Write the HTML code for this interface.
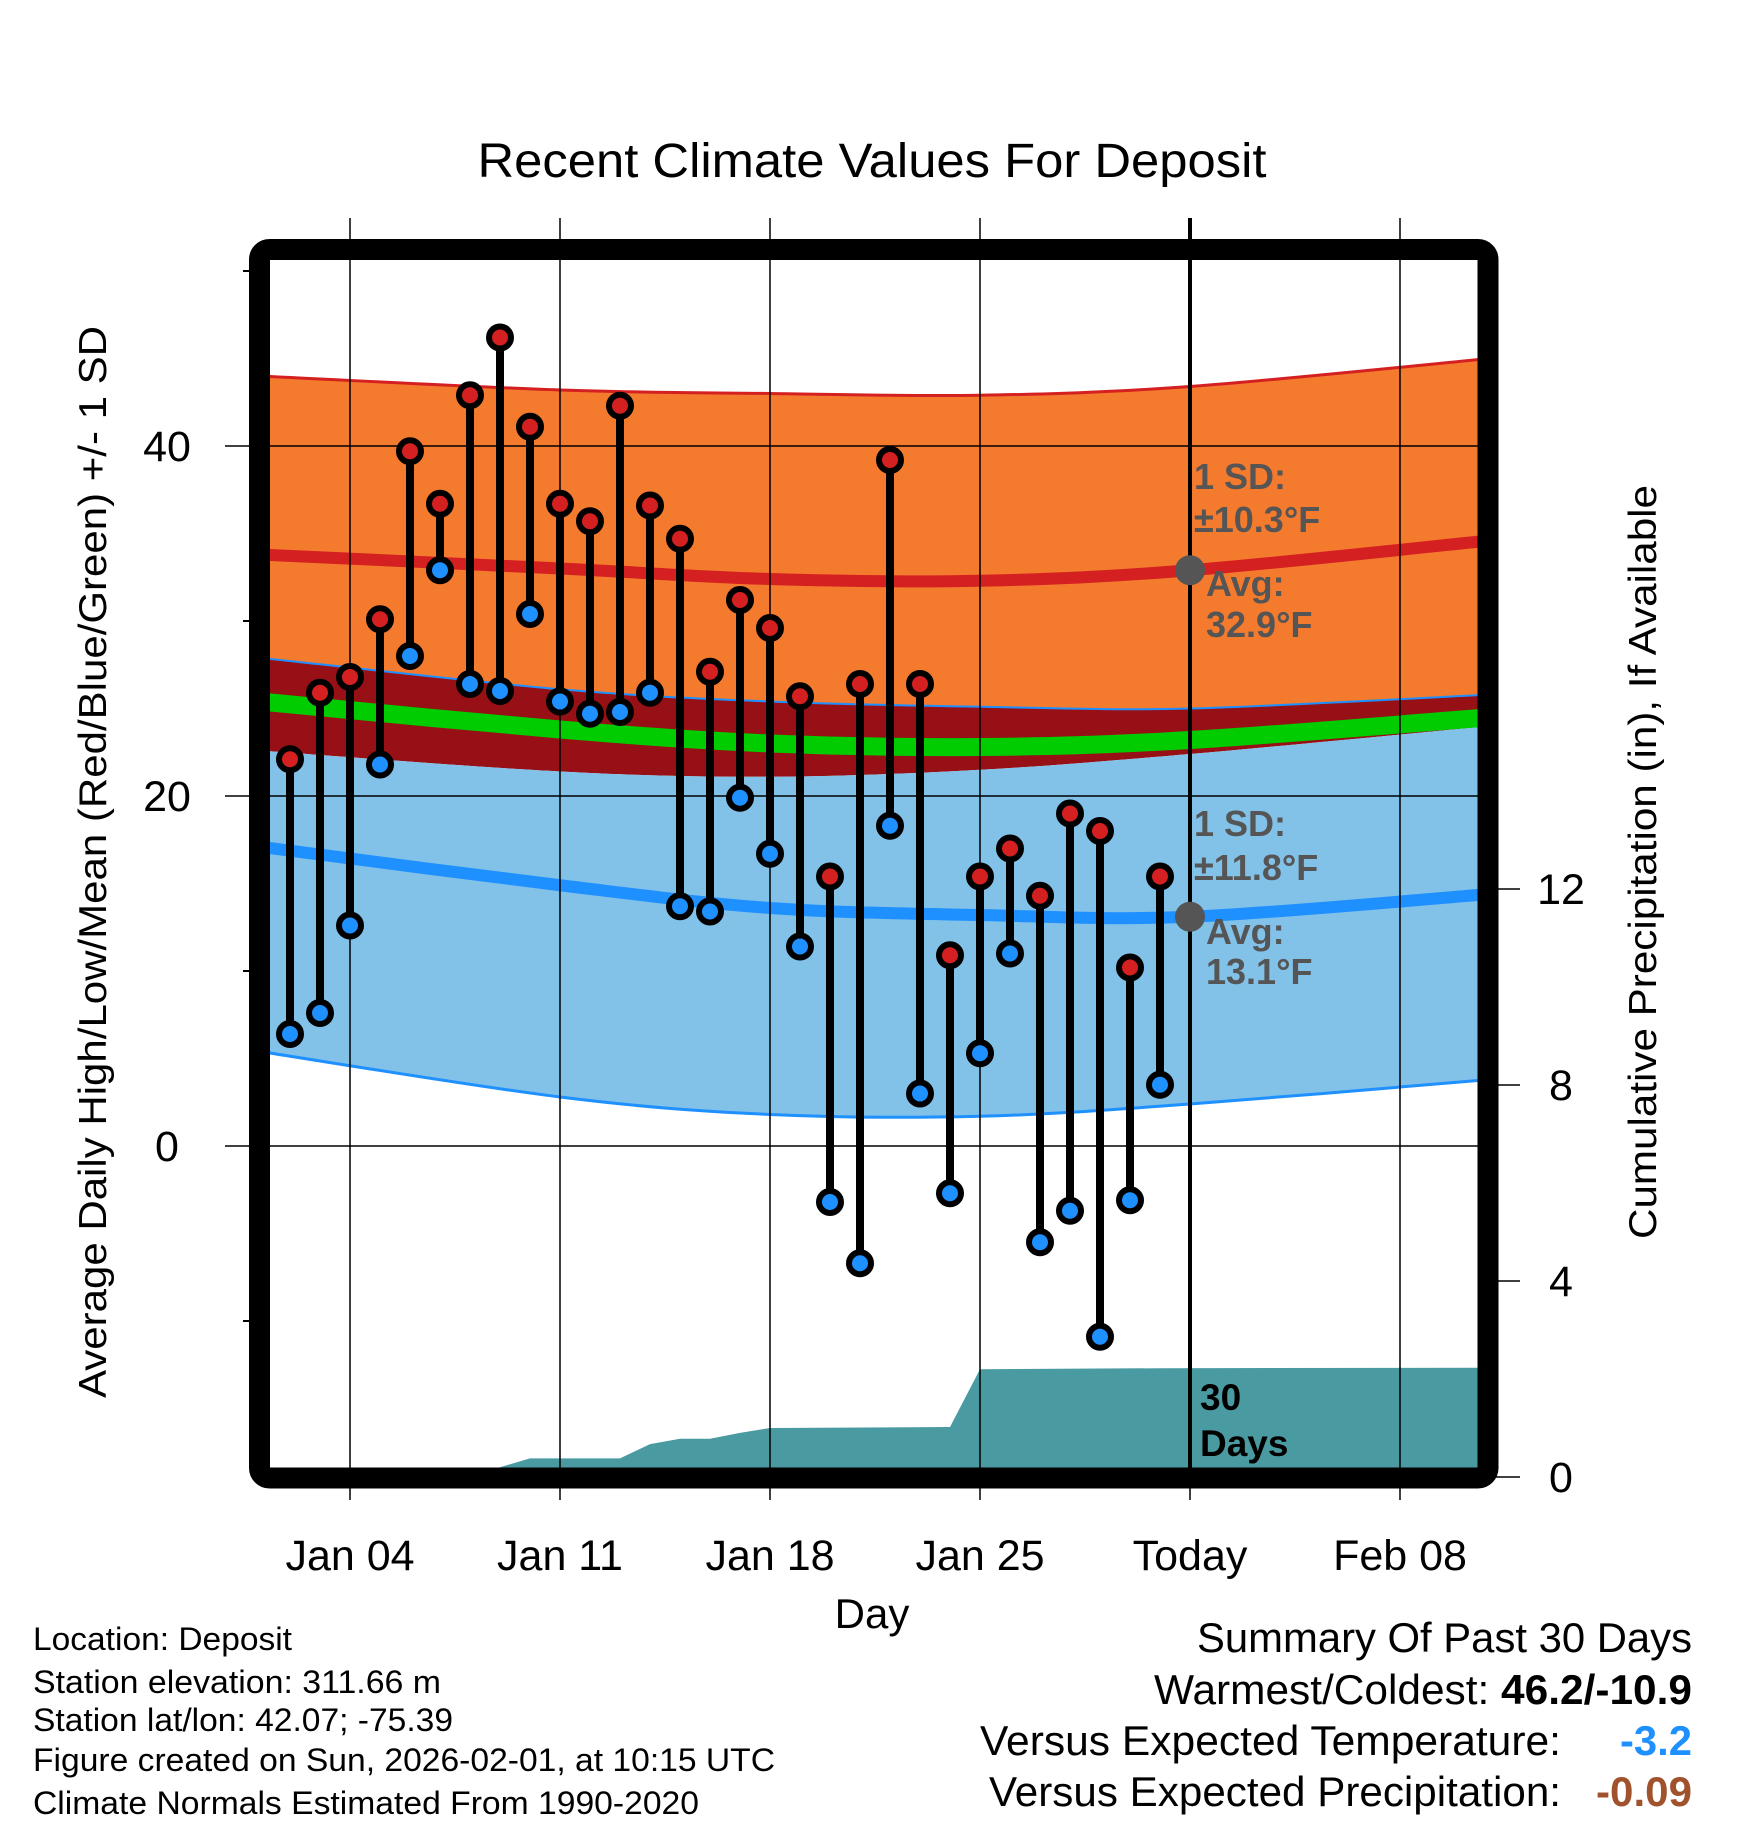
<!DOCTYPE html>
<html><head><meta charset="utf-8"><style>
body{margin:0;background:#fff}
svg{display:block;font-family:"Liberation Sans",sans-serif}
</style></head><body>
<svg id="chart" width="1748" height="1828" viewBox="0 0 1748 1828" xmlns="http://www.w3.org/2000/svg">
<defs><clipPath id="plotclip"><rect x="270" y="260" width="1208" height="1208"/></clipPath></defs>
<rect width="1748" height="1828" fill="#fff"/>
<text x="872" y="177" font-size="48" text-anchor="middle" textLength="789" lengthAdjust="spacingAndGlyphs">Recent Climate Values For Deposit</text>
<g id="plot" clip-path="url(#plotclip)"></g>
<g id="grid"></g>
<g id="marks"></g>
<rect x="259.5" y="249.5" width="1228.5" height="1228.5" rx="10" fill="none" stroke="#000" stroke-width="21"/>
<g id="axes"></g>
<text transform="translate(106,862) rotate(-90)" font-size="39" text-anchor="middle" textLength="1072" lengthAdjust="spacingAndGlyphs">Average Daily High/Low/Mean (Red/Blue/Green) +/- 1 SD</text>
<text transform="translate(1656,862) rotate(-90)" font-size="39" text-anchor="middle" textLength="754" lengthAdjust="spacingAndGlyphs">Cumulative Precipitation (in), If Available</text>
<text x="872" y="1628" font-size="42" text-anchor="middle">Day</text>
<g font-size="32">
<text x="33" y="1650" textLength="259" lengthAdjust="spacingAndGlyphs">Location: Deposit</text>
<text x="33" y="1693" textLength="408" lengthAdjust="spacingAndGlyphs">Station elevation: 311.66 m</text>
<text x="33" y="1731" textLength="420" lengthAdjust="spacingAndGlyphs">Station lat/lon: 42.07; -75.39</text>
<text x="33" y="1771" textLength="742" lengthAdjust="spacingAndGlyphs">Figure created on Sun, 2026-02-01, at 10:15 UTC</text>
<text x="33" y="1814" textLength="666" lengthAdjust="spacingAndGlyphs">Climate Normals Estimated From 1990-2020</text>
</g>
<g font-size="42">
<text x="1197" y="1652" textLength="495" lengthAdjust="spacingAndGlyphs">Summary Of Past 30 Days</text>
<text x="1154" y="1704" textLength="538" lengthAdjust="spacingAndGlyphs">Warmest/Coldest: <tspan font-weight="bold">46.2/-10.9</tspan></text>
<text x="980" y="1755" textLength="581" lengthAdjust="spacingAndGlyphs">Versus Expected Temperature:</text>
<text x="1620" y="1755" fill="#1e90ff" font-weight="bold" textLength="72" lengthAdjust="spacingAndGlyphs">-3.2</text>
<text x="989" y="1806" textLength="572" lengthAdjust="spacingAndGlyphs">Versus Expected Precipitation:</text>
<text x="1596" y="1806" fill="#a0522d" font-weight="bold" textLength="96" lengthAdjust="spacingAndGlyphs">-0.09</text>
</g>
</svg>
<script>
const days=[2,3,4,5,6,7,8,9,10,11,12,13,14,15,16,17,18,19,20,21,22,23,24,25,26,27,28,29,30,31];
const highs=[22.1,25.9,26.8,30.1,39.7,36.7,42.9,46.2,41.1,36.7,35.7,42.3,36.6,34.7,27.1,31.2,29.6,25.7,15.4,26.4,39.2,26.4,10.9,15.4,17.0,14.3,19.0,18.0,10.2,15.4];
const lows=[6.4,7.6,12.6,21.8,28.0,32.9,26.4,26.0,30.4,25.4,24.7,24.8,25.9,13.7,13.4,19.9,16.7,11.4,-3.2,-6.7,18.3,3.0,-2.7,5.3,11.0,-5.5,-3.7,-10.9,-3.1,3.5];
const normDays=[1,11,18,25,32,42];
const highUpper=[44.0,43.2,43.0,42.9,43.4,45.0];
const highMean=[33.8,33.0,32.4,32.3,32.9,34.6];
const highLower=[27.9,26.1,25.4,25.1,25.0,25.8];
const meanTemp=[25.4,23.8,23.0,22.8,23.2,24.5];
const lowUpper=[22.6,21.4,21.1,21.5,22.4,24.0];
const lowMean=[17.1,14.9,13.6,13.2,13.1,14.4];
const lowLower=[5.4,2.8,1.8,1.7,2.4,3.8];
const precipDays=[1,8.4,9,10,13,14,15,16,17,18,24,25,31,42];
const precipCum=[0,0,0.2,0.38,0.38,0.67,0.78,0.78,0.9,1.0,1.02,2.2,2.22,2.23];
const xTickDays=[4,11,18,25,32,39];
const xTickLabels=["Jan 04","Jan 11","Jan 18","Jan 25","Today","Feb 08"];
const yTicks=[0,20,40];
const yMinor=[-10,10,30,50];
const y2Ticks=[0,4,8,12];
const todayDay=32;

const NS="http://www.w3.org/2000/svg";
const X=d=>350+(d-4)*30;
const Y=v=>1146-v*17.5;
const Y2=p=>1477-p*49;
function mk(tag,attrs,parent){const e=document.createElementNS(NS,tag);for(const k in attrs)e.setAttribute(k,attrs[k]);parent.appendChild(e);return e;}
const plot=document.getElementById('plot'),grid=document.getElementById('grid'),marks=document.getElementById('marks'),axes=document.getElementById('axes');
function curve(p,cmd){
  let s=cmd+p[0][0]+','+p[0][1];
  for(let i=0;i<p.length-1;i++){
    const p0=p[Math.max(0,i-1)],p1=p[i],p2=p[i+1],p3=p[Math.min(p.length-1,i+2)];
    const c1=[p1[0]+(p2[0]-p0[0])/6,p1[1]+(p2[1]-p0[1])/6];
    const c2=[p2[0]-(p3[0]-p1[0])/6,p2[1]-(p3[1]-p1[1])/6];
    s+=' C'+c1[0]+','+c1[1]+' '+c2[0]+','+c2[1]+' '+p2[0]+','+p2[1];
  }
  return s;
}
function ptsOf(arr){return normDays.map((d,i)=>[X(d),Y(arr[i])]);}
function band(up,lo,fill,name){
  const e=mk('path',{d:curve(ptsOf(up),'M')+' '+curve(ptsOf(lo).reverse(),'L')+' Z',fill:fill},plot);
  
  
}
function line(arr,color,w,name){
  const e=mk('path',{d:curve(ptsOf(arr),'M'),fill:'none',stroke:color,'stroke-width':w},plot);
  
  
}
band(highUpper,highLower,'#f47a2e','high-sd-band');
band(highLower,lowUpper,'#961015','overlap-band');
band(lowUpper,lowLower,'#82c1e8','low-sd-band');
line(highUpper,'#d42020',3,'high-upper-line');
line(highLower,'#1e90ff',2,'high-lower-line');
line(lowLower,'#1e90ff',3,'low-lower-line');
line(meanTemp,'#00cc00',18,'mean-temp-line');
line(highMean,'#d42020',12,'high-mean-line');
line(lowMean,'#1e90ff',12,'low-mean-line');
{
  const p=precipDays.map((d,i)=>X(d)+','+Y2(precipCum[i]));
  p.push(X(precipDays[precipDays.length-1])+',1480');p.push(X(precipDays[0])+',1480');
  const e=mk('polygon',{points:p.join(' '),fill:'#4a9aa2'},plot);
  
  
}
xTickDays.forEach((d,i)=>{
  const g=mk('line',{x1:X(d),x2:X(d),y1:218,y2:1500,stroke:'#000','stroke-width':1.5},grid);
  
  
  const t=mk('text',{x:X(d),y:1570,'font-size':43,'text-anchor':'middle'},axes);
  t.textContent=xTickLabels[i];
  
  
});
yTicks.forEach(v=>{
  const g=mk('line',{x1:225,x2:1478,y1:Y(v),y2:Y(v),stroke:'#000','stroke-width':1.5},grid);
  
  
  const t=mk('text',{x:167,y:Y(v)+15,'font-size':43,'text-anchor':'middle'},axes);
  t.textContent=v;
  
  
});
yMinor.forEach(v=>{
  const g=mk('line',{x1:243,x2:255,y1:Y(v),y2:Y(v),stroke:'#000','stroke-width':2},axes);
  
  
});
y2Ticks.forEach(p=>{
  const g=mk('line',{x1:1490,x2:1520,y1:Y2(p),y2:Y2(p),stroke:'#000','stroke-width':1.5},axes);
  
  
  const t=mk('text',{x:1561,y:Y2(p)+15,'font-size':43,'text-anchor':'middle'},axes);
  t.textContent=p;
  
  
});
{
  const g=mk('line',{x1:X(todayDay),x2:X(todayDay),y1:218,y2:1470,stroke:'#000','stroke-width':4},grid);
  
  
}
days.forEach((d,i)=>{
  const s=mk('line',{x1:X(d),x2:X(d),y1:Y(highs[i]),y2:Y(lows[i]),stroke:'#000','stroke-width':8},marks);
  
  
});
days.forEach((d,i)=>{
  const h=mk('circle',{cx:X(d),cy:Y(highs[i]),r:11,fill:'#d42020',stroke:'#000','stroke-width':6},marks);
  
  
  const l=mk('circle',{cx:X(d),cy:Y(lows[i]),r:11,fill:'#1e90ff',stroke:'#000','stroke-width':6},marks);
  
  
});
[[highMean,'today-high-avg-dot'],[lowMean,'today-low-avg-dot']].forEach(([arr,name])=>{
  const v=arr[4];
  const c=mk('circle',{cx:X(todayDay),cy:Y(v),r:15,fill:'#555'},marks);
  
  
});
const ann=[[1194,489,'1 SD:'],[1194,532,'±10.3°F'],[1206,596,'Avg:'],[1206,637,'32.9°F'],
[1194,836,'1 SD:'],[1194,880,'±11.8°F'],[1206,944,'Avg:'],[1206,984,'13.1°F']];
ann.forEach(a=>{
  const t=mk('text',{x:a[0],y:a[1],'font-size':36,'font-weight':'bold',fill:'#555'},marks);
  t.textContent=a[2];
  
  
});
[[1200,1410,'30'],[1200,1456,'Days']].forEach(a=>{
  const t=mk('text',{x:a[0],y:a[1],'font-size':37,'font-weight':'bold',fill:'#000'},marks);
  t.textContent=a[2];
  
  
});
</script>
</body></html>
